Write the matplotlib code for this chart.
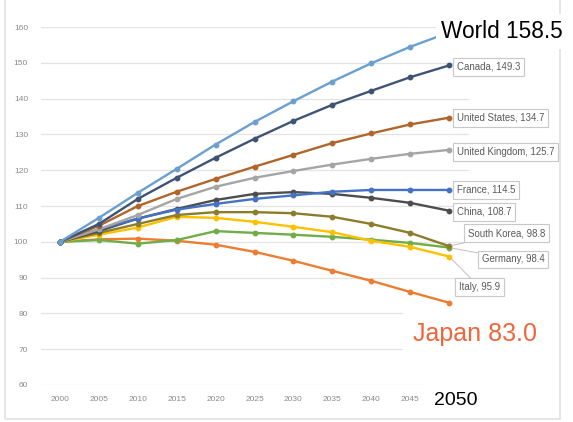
import matplotlib.pyplot as plt

plt.rcParams['font.family'] = ['Liberation Sans', 'DejaVu Sans']

years = [2000, 2005, 2010, 2015, 2020, 2025, 2030, 2035, 2040, 2045, 2050]

# population index, 2000 = 100
world = [100, 106.7, 113.7, 120.4, 127.2, 133.5, 139.3, 144.8, 149.9, 154.5, 158.5]
canada = [100, 105.0, 112.0, 117.9, 123.5, 128.8, 133.8, 138.3, 142.2, 146.0, 149.3]
united_states = [100, 104.5, 110.0, 114.0, 117.6, 121.0, 124.3, 127.6, 130.3, 132.8, 134.7]
united_kingdom = [100, 103.5, 107.5, 112.0, 115.4, 117.9, 119.8, 121.6, 123.2, 124.6, 125.7]
france = [100, 103.5, 106.5, 109.0, 110.6, 112.0, 113.0, 114.0, 114.5, 114.5, 114.5]
china = [100, 103.0, 106.5, 109.2, 111.7, 113.4, 113.9, 113.4, 112.3, 110.9, 108.7]
south_korea = [100, 102.5, 105.0, 107.5, 108.3, 108.3, 108.0, 107.0, 105.0, 102.5, 98.8]
germany = [100, 100.5, 99.5, 100.5, 103.0, 102.5, 102.0, 101.4, 100.6, 99.7, 98.4]
italy = [100, 102.0, 104.0, 107.0, 106.7, 105.6, 104.2, 102.7, 100.3, 98.6, 95.9]
japan = [100, 100.7, 100.9, 100.3, 99.2, 97.2, 94.7, 91.9, 89.1, 86.0, 83.0]

series = [
    ("Japan", japan, "#ed7d31"),
    ("Germany", germany, "#70ad47"),
    ("Italy", italy, "#ffc000"),
    ("South Korea", south_korea, "#8c7d2a"),
    ("China", china, "#4d4d4d"),
    ("France", france, "#4472c4"),
    ("United Kingdom", united_kingdom, "#a5a5a5"),
    ("United States", united_states, "#b0652a"),
    ("Canada", canada, "#3f5373"),
    ("World", world, "#6a9fd0"),
]

fig = plt.figure(figsize=(5.73, 4.22), dpi=100)
fig.patch.set_facecolor("white")

# outer frame, kept under everything else
fig.add_artist(plt.Rectangle((0.009, 0.008), 0.968, 1.2, transform=fig.transFigure,
                             fill=False, ec="#e0e0e0", lw=1.2, zorder=-5))

ax = fig.add_axes([0.0707, 0.0877, 0.747, 0.848])
ax.patch.set_alpha(0)

for name, vals, col in series:
    ax.plot(years, vals, color=col, lw=1.7, marker="o", ms=3.2, zorder=3)

ax.set_xlim(1997.5, 2052.5)
ax.set_ylim(60, 160)
ax.set_xticks(years[:-1])
ax.set_yticks(range(60, 161, 10))
ax.grid(axis="y", color="#e3e3e3", lw=0.9)
ax.set_axisbelow(True)
for s in ax.spines.values():
    s.set_visible(False)
ax.tick_params(length=0, labelsize=6, labelcolor="#8a8a8a")
ax.tick_params(axis="y", pad=9)
ax.tick_params(axis="x", pad=8)

# small boxed labels at the end of each line
box = dict(boxstyle="square,pad=0.4", fc="white", ec="#c8c8c8", lw=0.8)
small = [
    ("Canada", canada[-1], 2051.0, canada[-1] - 0.4, None),
    ("United States", united_states[-1], 2051.0, united_states[-1], None),
    ("United Kingdom", united_kingdom[-1], 2051.0, united_kingdom[-1] - 0.5, None),
    ("France", france[-1], 2051.0, france[-1], None),
    ("China", china[-1], 2051.0, china[-1] - 0.3, None),
    ("South Korea", south_korea[-1], 2052.4, 102.4, south_korea[-1]),
    ("Germany", germany[-1], 2054.2, 95.1, germany[-1]),
    ("Italy", italy[-1], 2051.3, 87.3, italy[-1]),
]
for name, v, tx, ty, lead in small:
    if lead is None:
        ax.text(tx, ty, f"{name}, {v}", fontsize=6.9, color="#595959",
                va="center", ha="left", bbox=box, clip_on=False, zorder=5)
    else:
        ax.annotate(f"{name}, {v}", xy=(2050, lead), xytext=(tx, ty),
                    fontsize=6.9, color="#595959", va="center", ha="left",
                    bbox=box, annotation_clip=False, zorder=5,
                    arrowprops=dict(arrowstyle="-", color="#bfbfbf", lw=0.7,
                                    shrinkA=0, shrinkB=2))

# large callouts
ax.text(2049.0, 158.8, "World 158.5", fontsize=16.3, color="black", va="center",
        ha="left", clip_on=False, zorder=6,
        bbox=dict(boxstyle="square,pad=0.25", fc="white", ec="none"))
ax.text(2045.3, 74.2, "Japan 83.0", fontsize=18, color="#f0653a", va="center",
        ha="left", clip_on=False, zorder=6,
        bbox=dict(boxstyle="square,pad=0.4", fc="white", ec="none"))
ax.text(2048.0, 55.6, "2050", fontsize=14, color="black", va="center",
        ha="left", clip_on=False, zorder=6,
        bbox=dict(boxstyle="square,pad=0.45", fc="white", ec="none"))

fig.savefig("out.png", dpi=100)
